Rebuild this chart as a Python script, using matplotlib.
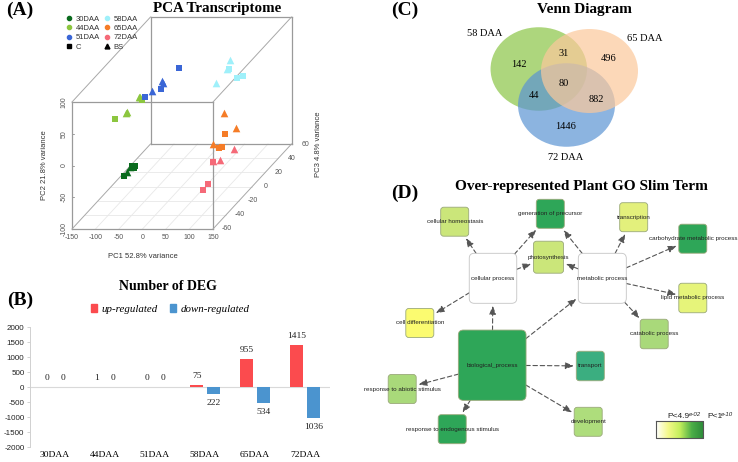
import matplotlib
matplotlib.use('Agg')
import matplotlib.pyplot as plt
import numpy as np
from matplotlib.colors import LinearSegmentedColormap
from matplotlib.lines import Line2D
from matplotlib.patches import Ellipse, FancyBboxPatch, Patch

SERIF = 'Liberation Serif'
SANS = 'Liberation Sans'
plt.rcParams['axes.unicode_minus'] = False

# PCA samples (PC3 is only a guess per group, a flat picture does not give it)
pca_group = ['30DAA'] * 6 + ['44DAA'] * 6 + ['51DAA'] * 6 + ['58DAA'] * 6 + ['65DAA'] * 6 + ['72DAA'] * 6
pca_tissue = ['C', 'C', 'C', 'BS', 'BS', 'C',
              'C', 'C', 'BS', 'BS', 'BS', 'BS',
              'C', 'C', 'C', 'BS', 'BS', 'BS',
              'C', 'C', 'C', 'BS', 'BS', 'BS',
              'C', 'C', 'C', 'BS', 'BS', 'BS',
              'C', 'C', 'C', 'BS', 'BS', 'BS']
pca_pc1 = [-71, -78, -94, -82, -89, -74,
           -84, -142, -92, -89, -116, -119,
           -34, -73, -106, -68, -69, -92,
           73, 90, 102, 75, 68, 45,
           93, 79, 86, 89, 115, 67,
           95, 83, 72, 138, 95, 110]
pca_pc2 = [-46, -46, -61, -47, -55, -48,
           36, 6, 41, 41, 17, 16,
           64, 32, 18, 41, 44, 28,
           62, 48, 52, 77, 63, 41,
           -18, -39, -38, 15, -8, -33,
           -39, -73, -83, -19, -38, -36]
pca_pc3 = [-20] * 6 + [0] * 6 + [20] * 6 + [20] * 6 + [0] * 6 + [-20] * 6

group_names = ['30DAA', '44DAA', '51DAA', '58DAA', '65DAA', '72DAA']
group_colors = ['#0b6b1e', '#8cc63f', '#3a66d6', '#9ff0fa', '#f57c27', '#f56a78']

pc1_ticks = [-150, -100, -50, 0, 50, 100, 150]
pc2_ticks = [-100, -50, 0, 50, 100]
pc3_ticks = [-60, -40, -20, 0, 20, 40, 60]

# DEG counts
deg_labels = ['30DAA', '44DAA', '51DAA', '58DAA', '65DAA', '72DAA']
deg_up = [0, 1, 0, 75, 955, 1415]
deg_down = [0, 0, 0, -222, -534, -1036]

# Venn counts
venn_names = ['58 DAA', '65 DAA', '72 DAA']
venn_counts = [142, 496, 1446, 31, 44, 882, 80]

# GO graph
go_terms = ['cellular homeostasis', 'generation of precursor', 'transcription',
            'carbohydrate metabolic process', 'photosynthesis', 'cellular process',
            'metabolic process', 'lipid metabolic process', 'cell differentiation',
            'catabolic process', 'biological_process', 'transport',
            'response to abiotic stimulus', 'development', 'response to endogenous stimulus']
go_colors = ['#cbe67a', '#2ea658', '#e3f07c', '#2ea658', '#cbe67a', '#ffffff',
             '#ffffff', '#e6f47a', '#fbfb70', '#a9d97a', '#2ea658', '#3bae80',
             '#a9d97a', '#aedd7c', '#2ea658']
go_edges = [('biological_process', 'cellular process'),
            ('biological_process', 'metabolic process'),
            ('biological_process', 'transport'),
            ('biological_process', 'development'),
            ('biological_process', 'response to endogenous stimulus'),
            ('biological_process', 'response to abiotic stimulus'),
            ('cellular process', 'cell differentiation'),
            ('cellular process', 'cellular homeostasis'),
            ('cellular process', 'generation of precursor'),
            ('cellular process', 'photosynthesis'),
            ('metabolic process', 'generation of precursor'),
            ('metabolic process', 'photosynthesis'),
            ('metabolic process', 'transcription'),
            ('metabolic process', 'carbohydrate metabolic process'),
            ('metabolic process', 'lipid metabolic process'),
            ('metabolic process', 'catabolic process')]

# layout in picture pixels: x, y, w, h
go_layout = {
    'cellular homeostasis': (454.7, 221.7, 28, 29),
    'generation of precursor': (550.3, 213.8, 28, 29),
    'transcription': (633.7, 217.2, 28, 29),
    'carbohydrate metabolic process': (692.8, 238.7, 28, 29),
    'photosynthesis': (548.5, 257.2, 30, 32),
    'cellular process': (493, 278.3, 47.5, 50),
    'metabolic process': (602.3, 278.3, 48, 50),
    'lipid metabolic process': (692.8, 298, 28, 29.5),
    'cell differentiation': (419.8, 323, 28, 29),
    'catabolic process': (654.2, 334, 28, 29.5),
    'biological_process': (492.2, 365.2, 67.7, 70.3),
    'transport': (590.3, 366, 28, 29.5),
    'response to abiotic stimulus': (402.2, 389, 28, 29),
    'development': (588.2, 421.8, 28, 29),
    'response to endogenous stimulus': (452.2, 429.2, 28, 29),
}

fig = plt.figure(figsize=(7.38, 4.62), dpi=100)
ax = fig.add_axes([0, 0, 1, 1], xlim=(0, 738), ylim=(462, 0))
ax.axis('off')


def label(x, y, s, size, family=SANS, **kw):
    kw.setdefault('color', 'black')
    ax.text(x, y, s, fontsize=size, family=family, ha=kw.pop('ha', 'center'), va='center', **kw)


def project(pc1, pc2, pc3):
    x = 72 + (np.asarray(pc1) + 150) / 300 * 141 + (np.asarray(pc3) + 60) / 120 * 78.5
    y = 229 - (np.asarray(pc2) + 100) / 200 * 127 - (np.asarray(pc3) + 60) / 120 * 85
    return x, y


def seg(a, b, **kw):
    xs, ys = project(*zip(a, b))
    ax.plot(xs, ys, **kw)


# ---- (A) PCA
label(20, 10.5, '(A)', 14, SERIF, weight='bold')
label(217.5, 8.5, 'PCA Transcriptome', 10.8, SERIF, weight='bold')

for v in pc1_ticks[1:-1]:
    seg((v, -100, -60), (v, -100, 60), color='#e8e8e8', lw=0.6)
for v in pc3_ticks[1:-1]:
    seg((-150, -100, v), (150, -100, v), color='#e8e8e8', lw=0.6)
for v in pc2_ticks[1:-1]:
    seg((-150, v, -60), (-146, v, -60), color='#777777', lw=0.5)

box = dict(color='#9a9a9a', lw=0.9)
thin = dict(color='#a8a8a8', lw=0.7)
seg((-150, -100, -60), (150, -100, -60), **box)
seg((-150, 100, -60), (150, 100, -60), **box)
seg((-150, -100, -60), (-150, 100, -60), **box)
seg((150, -100, -60), (150, 100, -60), **box)
seg((-150, -100, 60), (150, -100, 60), **box)
seg((-150, 100, 60), (150, 100, 60), **box)
seg((-150, -100, 60), (-150, 100, 60), **box)
seg((150, -100, 60), (150, 100, 60), **box)
for a in (-150, 150):
    for b in (-100, 100):
        seg((a, b, -60), (a, b, 60), **thin)

for v in pc1_ticks:
    x, y = project(v, -100, -60)
    label(x, y + 8.7, str(v), 5, color='#555555')
for v in pc2_ticks:
    x, y = project(-150, v, -60)
    label(x - 8, y, str(v), 5, color='#555555', rotation=90)
for v in pc3_ticks:
    x, y = project(150, -100, v)
    label(x + 13.5, y, str(v), 5, color='#555555')
label(142.5, 256, 'PC1 52.8% variance', 5.5, color='#333333')
label(45, 165, 'PC2 21.8% variance', 5.5, color='#333333', rotation=90)
label(318, 144, 'PC3 4.8% variance', 5.5, color='#333333', rotation=90)

sx, sy = project(pca_pc1, pca_pc2, pca_pc3)
group_col = dict(zip(group_names, group_colors))
for i in range(len(sx)):
    marker = 's' if pca_tissue[i] == 'C' else '^'
    ax.scatter(sx[i], sy[i], marker=marker, s=25 if marker == 's' else 30,
               color=group_col[pca_group[i]], linewidths=0, zorder=3)

handles = [Line2D([], [], ls='', marker='o', ms=3, color=c) for c in group_colors[:3]]
handles.append(Line2D([], [], ls='', marker='s', ms=3, color='black'))
handles += [Line2D([], [], ls='', marker='o', ms=3, color=c) for c in group_colors[3:]]
handles.append(Line2D([], [], ls='', marker='^', ms=3.5, color='black'))
names = group_names[:3] + ['C'] + group_names[3:] + ['BS']
ax.legend(handles, names, ncol=2, frameon=False, loc='upper left',
          bbox_to_anchor=(65.5 / 738, 1 - 15.5 / 462),
          prop=dict(family=SANS, size=5.5), labelcolor='#333333', labelspacing=0.25,
          handlelength=1, handletextpad=0.35, columnspacing=0.45,
          borderpad=0, borderaxespad=0)

# ---- (B) DEG bars
label(20, 300.5, '(B)', 14, SERIF, weight='bold')
label(167.5, 287, 'Number of DEG', 10, SERIF, weight='bold')

bx = fig.add_axes([30 / 738, (462 - 447.3) / 462, 300 / 738, 120 / 462])
bx.patch.set_alpha(0)
pos = np.arange(len(deg_labels))
bars_up = bx.bar(pos - 0.167, deg_up, 0.267, color='#fb4b4e', label='up-regulated')
bars_down = bx.bar(pos + 0.167, deg_down, 0.267, color='#4b94cf', label='down-regulated')
for bars, vals in ((bars_up, deg_up), (bars_down, deg_down)):
    for b, v in zip(bars, vals):
        # zero-height bars in the first groups still get their label above the axis
        dy = 6.5 if v >= 0 else -6.5
        bx.annotate(str(abs(v)), (b.get_x() + b.get_width() / 2, v), xytext=(0, dy),
                    textcoords='offset points', ha='center', va='center',
                    fontsize=6.8, family=SERIF, color='#222222')
bx.axhline(0, color='#d9d9d9', lw=0.8, zorder=0)
bx.set_xlim(-0.5, 5.5)
bx.set_ylim(-2000, 2000)
bx.set_yticks(range(-2000, 2001, 500))
bx.set_xticks(pos, deg_labels)
bx.tick_params(axis='x', length=0, pad=3, labelsize=6.8)
bx.tick_params(axis='y', length=2, width=0.5, color='#c0c0c0', pad=2, labelsize=5.8, labelcolor='#222222')
for t in bx.get_xticklabels():
    t.set_family(SERIF)
for t in bx.get_yticklabels():
    t.set_family(SANS)
for s in ('top', 'right', 'bottom'):
    bx.spines[s].set_visible(False)
bx.spines['left'].set_color('#d0d0d0')
bx.spines['left'].set_linewidth(0.7)
bx.legend(handles=[Patch(color='#fb4b4e', label='up-regulated'), Patch(color='#4b94cf', label='down-regulated')],
          ncol=2, frameon=False, loc='center', bbox_to_anchor=(0.467, 1.152),
          prop=dict(family=SERIF, style='italic', size=7.8), handlelength=0.6, handleheight=0.7,
          handletextpad=0.4, columnspacing=1.1, borderpad=0, borderaxespad=0)

# ---- (C) Venn
label(404.5, 10.5, '(C)', 14, SERIF, weight='bold')
label(584, 9.5, 'Venn Diagram', 11, SERIF, weight='bold')
ax.add_patch(Ellipse((538.8, 69), 96.5, 83.5, color='#9fcf66', alpha=0.85, lw=0))
ax.add_patch(Ellipse((566.5, 105), 97, 83.5, color='#5b94d4', alpha=0.7, lw=0))
ax.add_patch(Ellipse((589.5, 71), 97, 84, color='#fcc89b', alpha=0.7, lw=0))
for (x, y), s in zip([(484.3, 34), (645, 38.7), (565.3, 157)], venn_names):
    label(x, y, s, 7.5, SERIF)
venn_at = [(519, 64.3), (608.3, 58.3), (565.7, 126.3), (563.7, 53.3), (534.3, 95.3), (596.3, 100), (564, 84)]
for (x, y), n in zip(venn_at, venn_counts):
    label(x, y, str(n), 7.5, SERIF)

# ---- (D) GO graph
label(404.5, 193.5, '(D)', 14, SERIF, weight='bold')
label(581.5, 186.5, 'Over-represented Plant GO Slim Term', 11, SERIF, weight='bold')

patches = {}
for term, col in zip(go_terms, go_colors):
    x, y, w, h = go_layout[term]
    r = 5 if w > 40 else 3
    edge = '#c4c4c4' if col == '#ffffff' else '#9aa97a'
    p = FancyBboxPatch((x - w / 2 + r, y - h / 2 + r), w - 2 * r, h - 2 * r,
                       boxstyle='round,pad=%d,rounding_size=%d' % (r, r),
                       fc=col, ec=edge, lw=0.6, zorder=2)
    ax.add_patch(p)
    patches[term] = p
for a, b in go_edges:
    ax.annotate('', xy=go_layout[b][:2], xytext=go_layout[a][:2], zorder=1,
                arrowprops=dict(arrowstyle='-|>,head_length=0.5,head_width=0.2', ls=(0, (4, 2.5)),
                                color='#555555', lw=0.8, patchA=patches[a], patchB=patches[b],
                                shrinkA=0, shrinkB=2))
for term in go_terms:
    x, y = go_layout[term][:2]
    label(x, y, term, 4.5, color='#222222', zorder=4)

cmap = LinearSegmentedColormap.from_list('p', ['#ffffff', '#f4f98a', '#c3ee5c', '#4cae47', '#2c8a3a'])
ax.imshow(np.linspace(0, 1, 100).reshape(1, -1), cmap=cmap, extent=(655.7, 703, 438.3, 421.3),
          aspect='auto', zorder=2)
ax.plot([655.7, 703, 703, 655.7, 655.7], [421.3, 421.3, 438.3, 438.3, 421.3], color='#555555', lw=0.8, zorder=3)
ax.set_xlim(0, 738)
ax.set_ylim(462, 0)
label(667, 417, 'P<4.9', 6, ha='left', color='#222222')
label(689, 415, 'e-02', 4.4, ha='left', style='italic', color='#222222')
label(707, 417, 'P<1', 6, ha='left', color='#222222')
label(721, 415, 'e-10', 4.4, ha='left', style='italic', color='#222222')

fig.savefig('out.png', dpi=100)
